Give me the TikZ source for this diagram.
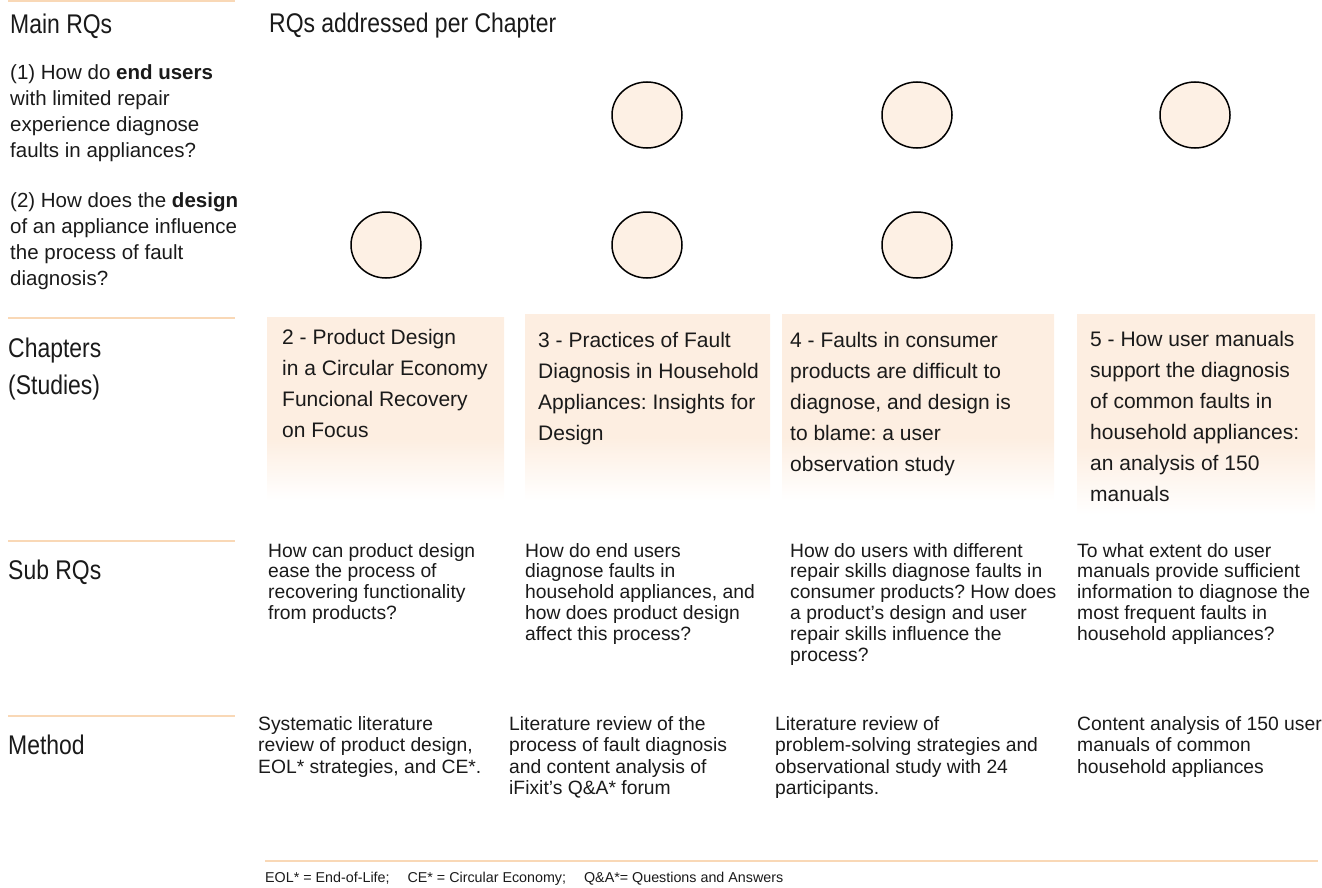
\documentclass[tikz,border=0pt]{standalone}
\usepackage{fontspec}
\setmainfont{Liberation Sans}
\newfontfamily\condfont{Liberation Sans}[FakeStretch=0.85]
\usetikzlibrary{calc,shapes.geometric}
\definecolor{peach}{HTML}{F9D8B6}
\definecolor{boxc}{HTML}{FDEEE1}
\definecolor{circc}{HTML}{FDF0E4}
\definecolor{txt}{HTML}{1A1A1A}
\pgfdeclareverticalshading{boxfade}{100bp}{color(0bp)=(white); color(25bp)=(white); color(42bp)=(boxc); color(100bp)=(boxc)}
\frenchspacing
\begin{document}
\begin{tikzpicture}[x=1pt,y=-1pt,
  sepline/.style={draw=peach, line width=2pt},
  hdr/.style={font=\condfont\fontsize{27}{37}\selectfont, text=txt, inner sep=0, anchor=north west, align=left},
  rq/.style={font=\fontsize{20.5}{26}\selectfont, text=txt, align=left, inner sep=0, anchor=north west},
  rqdot/.style={ellipse, draw=black, fill=circc, line width=1.5pt, minimum width=70pt, minimum height=66pt, inner sep=0},
  chapbox/.style={shade, shading=boxfade, inner sep=0, anchor=north west},
  chaptitle/.style={font=\fontsize{21}{31}\selectfont, text=txt, align=left, inner sep=0, anchor=north west},
  body/.style={font=\fontsize{19.3}{20.8}\selectfont, text=txt, align=left, inner sep=0, anchor=north west},
  meth/.style={font=\fontsize{19.3}{21.5}\selectfont, text=txt, align=left, inner sep=0, anchor=north west},
  foot/.style={font=\fontsize{14.3}{16}\selectfont, text=txt, inner sep=0, anchor=base west}
]
\useasboundingbox (0,0) rectangle (1322,888);

% separator lines
\coordinate (l0a) at (8,1);   \coordinate (l0b) at (235,1);
\coordinate (l1a) at (8,318); \coordinate (l1b) at (235,318);
\coordinate (l2a) at (8,541); \coordinate (l2b) at (235,541);
\coordinate (l3a) at (8,716); \coordinate (l3b) at (235,716);
\coordinate (l4a) at (265,861); \coordinate (l4b) at (1318,861);
\draw[sepline] (l0a) -- (l0b);
\draw[sepline] (l1a) -- (l1b);
\draw[sepline] (l2a) -- (l2b);
\draw[sepline] (l3a) -- (l3b);
\draw[sepline] (l4a) -- (l4b);

% headers
\node[hdr] (hmain) at (10,13.5) {Main RQs};
\node[hdr] (hper) at (269,12.5) {RQs addressed per Chapter};
\node[hdr] (hchap) at (8,337.5) {Chapters\\(Studies)};
\node[hdr] (hsub) at (8,560) {Sub RQs};
\node[hdr] (hmeth) at (8,735) {Method};

% main RQs
\node[rq] (rq1) at (10,64) {(1) How do \textbf{end users}\\with limited repair\\experience diagnose\\faults in appliances?};
\node[rq] (rq2) at (10,192) {(2) How does the \textbf{design}\\of an appliance influence\\the process of fault\\diagnosis?};

% circles
\node[rqdot] (c12) at (647,115) {};
\node[rqdot] (c13) at (917,115) {};
\node[rqdot] (c14) at (1195,115) {};
\node[rqdot] (c21) at (386,245) {};
\node[rqdot] (c22) at (647,245) {};
\node[rqdot] (c23) at (917,245) {};

% chapter boxes
\node[chapbox, minimum width=237pt, minimum height=183pt] (b1) at (267,317) {};
\node[chapbox, minimum width=245pt, minimum height=186pt] (b2) at (525,314) {};
\node[chapbox, minimum width=272pt, minimum height=186pt] (b3) at (782,314) {};
\node[chapbox, minimum width=238pt, minimum height=200pt] (b4) at (1077,314) {};

\node[chaptitle] (t1) at (282,329) {2 - Product Design\\in a Circular Economy\\Funcional Recovery\\on Focus};
\node[chaptitle] (t2) at (538,332) {3 - Practices of Fault\\Diagnosis in Household\\Appliances: Insights for\\Design};
\node[chaptitle] (t3) at (790,332) {4 - Faults in consumer\\products are difficult to\\diagnose, and design is\\to blame: a user\\observation study};
\node[chaptitle] (t4) at (1090,331) {5 - How user manuals\\support the diagnosis\\of common faults in\\household appliances:\\an analysis of 150\\manuals};

% sub RQs
\node[body] (s1) at (268,543) {How can product design\\ease the process of\\recovering functionality\\from products?};
\node[body] (s2) at (525,543) {How do end users\\diagnose faults in\\household appliances, and\\how does product design\\affect this process?};
\node[body] (s3) at (790,543) {How do users with different\\repair skills diagnose faults in\\consumer products? How does\\a product’s design and user\\repair skills influence the\\process?};
\node[body] (s4) at (1077,543) {To what extent do user\\manuals provide sufficient\\information to diagnose the\\most frequent faults in\\household appliances?};

% methods
\node[meth] (m1) at (258,716) {Systematic literature\\review of product design,\\EOL* strategies, and CE*.};
\node[meth] (m2) at (509,716) {Literature review of the\\process of fault diagnosis\\and content analysis of\\iFixit’s Q\&A* forum};
\node[meth] (m3) at (775,716) {Literature review of\\problem-solving strategies and\\observational study with 24\\participants.};
\node[meth] (m4) at (1077,716) {Content analysis of 150 user\\manuals of common\\household appliances};

% footer
\node[foot] (fn) at (265,882) {EOL* = End-of-Life;\hspace{18pt}CE* = Circular Economy;\hspace{18pt}Q\&A*= Questions and Answers};
\end{tikzpicture}
\end{document}
